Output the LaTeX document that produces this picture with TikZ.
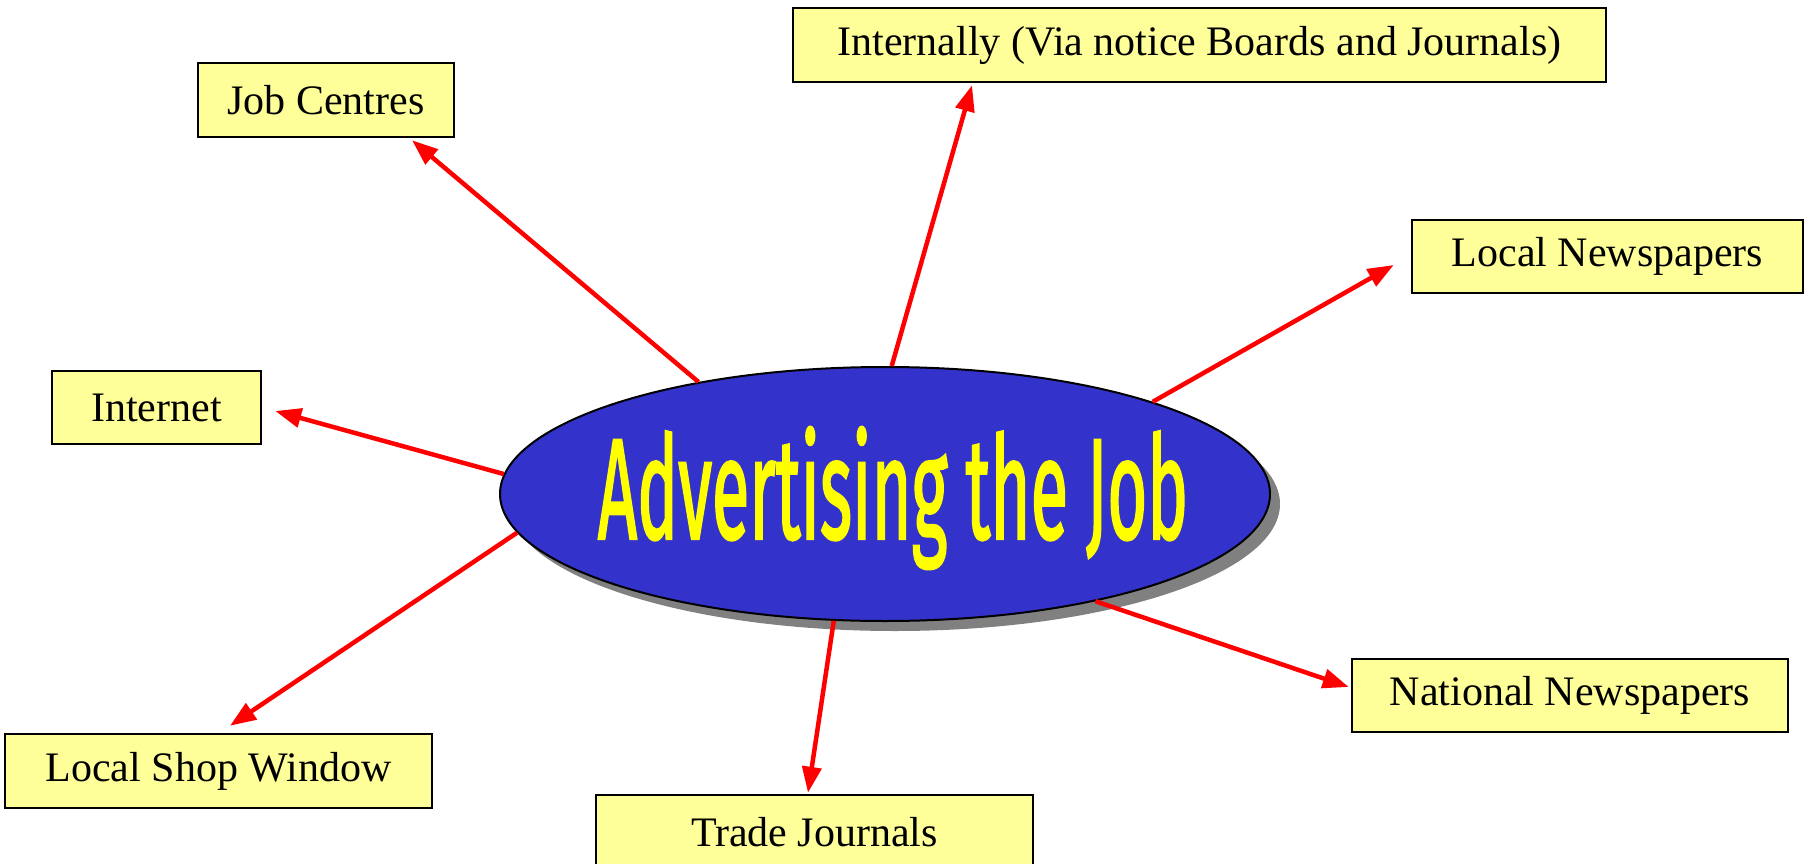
\documentclass[tikz,border=0pt]{standalone}
\usepackage{fontspec}
\usepackage{graphicx}
\setmainfont{Liberation Serif}
\newfontfamily\comicfont[FakeBold=2]{Fira Sans}
\usetikzlibrary{arrows.meta,shapes.geometric}
\definecolor{boxfill}{HTML}{FFFF99}
\definecolor{ellfill}{HTML}{3333CC}
\definecolor{shadowgray}{HTML}{808080}
\definecolor{arrowred}{HTML}{FF0000}
\definecolor{titleyellow}{HTML}{FFFF00}
\begin{document}
\begin{tikzpicture}[x=1pt,y=-1pt,
  labelbox/.style={draw=black, line width=2.5pt, fill=boxfill, inner sep=0pt,
    font=\fontsize{42}{50}\selectfont, text=black},
  link/.style={draw=arrowred, line width=4.5pt, -{Triangle[length=26pt,width=19pt]}},
  bigell/.style={ellipse, minimum width=770pt, minimum height=254pt, inner sep=0pt}]
\useasboundingbox (0,0) rectangle (1809,864);
\clip (0,0) rectangle (1809,864);
% central ellipse with shadow
\node[bigell, fill=shadowgray] (shadow) at (895,504) {};
\node[bigell, draw=black, line width=2pt, fill=ellfill] (ell) at (885,494) {};
\node[text=titleyellow, inner sep=0pt] (title) at (893,498)
  {\resizebox*{590pt}{142pt}{\comicfont Advertising the Job}};
% boxes
\node[labelbox, minimum width=256pt, minimum height=74pt] (jc) at (326,100) {Job Centres};
\node[labelbox, minimum width=813pt, minimum height=74pt] (int) at (1199.5,45) {Internally (Via notice Boards and Journals)};
\node[labelbox, minimum width=391pt, minimum height=73pt] (ln) at (1607.5,256.5) {Local Newspapers};
\node[labelbox, minimum width=209pt, minimum height=73pt] (inet) at (156.5,407.5) {Internet};
\node[labelbox, minimum width=427pt, minimum height=74pt] (lsw) at (218.5,771) {Local Shop Window};
\node[labelbox, minimum width=437pt, minimum height=74pt] (tj) at (814.5,832) {Trade Journals};
\node[labelbox, minimum width=436pt, minimum height=73pt] (nn) at (1570,695.5) {National Newspapers};
% connectors
\draw[link] (ell.149) -- ([xshift=86pt,yshift=-2pt]jc.south);
\draw[link] (ell.87) -- ([xshift=-227.5pt,yshift=-2pt]int.south);
\draw[link] (ell.19) -- ([xshift=-17pt,yshift=-8.5pt]ln.west);
\draw[link] (ell.177) -- ([xshift=13pt,yshift=-3.5pt]inet.east);
\draw[link] (ell.186) -- ([xshift=11.5pt,yshift=7pt]lsw.north);
\draw[link] (ell.248) -- ([xshift=-6.5pt,yshift=1pt]tj.north);
\draw[link] (ell.333) -- ([xshift=-2pt,yshift=8.5pt]nn.west);
\end{tikzpicture}
\end{document}
